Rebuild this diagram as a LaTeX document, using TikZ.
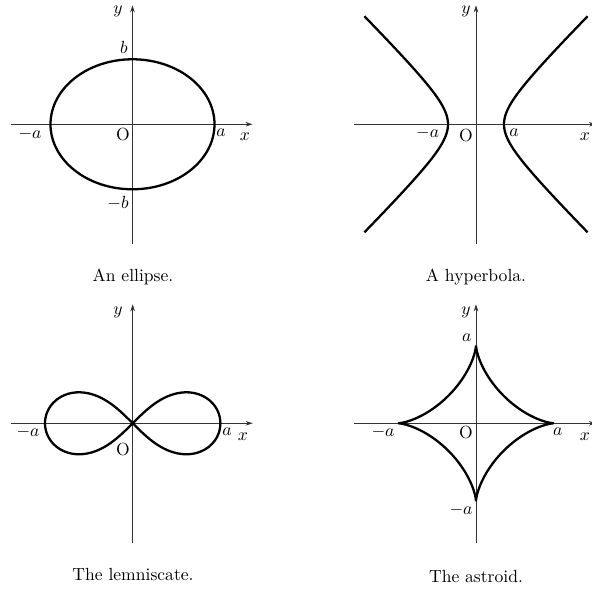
\documentclass[tikz,border=0pt]{standalone}
\usepackage{amsmath}
\usepackage{tikz}
\usetikzlibrary{arrows.meta}

\begin{document}
\begin{tikzpicture}[x=0.02cm,y=0.02cm,
      axis/.style={-{Stealth[length=4pt,width=2.6pt]},line width=0.5pt,black!80},
      curve/.style={line width=1.3pt,line join=round},
      lbl/.style={inner sep=0pt}]
    \clip (0,0) rectangle (592,590);
    % Axes of the four panels
    \foreach \p/\ox/\oy in {E/132.5/465.7,H/476/465.7,L/132.7/166.7,A/476/166.7} {
      \coordinate (\p) at (\ox,\oy);
      \coordinate (\p-xl) at (\ox-122,\oy);
      \coordinate (\p-xr) at (\ox+120,\oy);
      \coordinate (\p-yb) at (\ox,\oy-120);
      \coordinate (\p-yt) at (\ox,\oy+119);
      \draw[axis] (\p-xl) -- (\p-xr);
      \draw[axis] (\p-yb) -- (\p-yt);
    }
    % Ellipse
    \begin{scope}[shift={(E)}]
      \draw[curve] (0,0) ellipse [x radius=82,y radius=65];
      \node[lbl] (E-y) at (-14.5,113) {$y$};
      \node[lbl] (E-b) at (-8.5,77) {$b$};
      \node[lbl] (E-ma) at (-102.5,-9.7) {$-a$};
      \node[lbl] (E-o) at (-9.5,-10.7) {O};
      \node[lbl] (E-a) at (88.5,-8.7) {$a$};
      \node[lbl] (E-x) at (112.5,-12.7) {$x$};
      \node[lbl] (E-mb) at (-14.5,-78.7) {$-b$};
      \node (E-cap) at (0.5,-152.7) {An ellipse.};
    \end{scope}
    % Hyperbola
    \begin{scope}[shift={(H)}]
      \draw[curve] plot[domain=-2.06:2.06,samples=60,smooth] ({28*cosh(\x)},{28*sinh(\x)});
      \draw[curve] plot[domain=-2.06:2.06,samples=60,smooth] ({-28*cosh(\x)},{28*sinh(\x)});
      \node[lbl] (H-y) at (-10,113) {$y$};
      \node[lbl] (H-ma) at (-48.3,-8.7) {$-a$};
      \node[lbl] (H-o) at (-10,-11.7) {O};
      \node[lbl] (H-a) at (38,-8.7) {$a$};
      \node[lbl] (H-x) at (109,-12.7) {$x$};
      \node (H-cap) at (0,-152.7) {A hyperbola.};
    \end{scope}
    % Lemniscate
    \begin{scope}[shift={(L)}]
      \draw[curve] plot[domain=0:360,samples=121,smooth cycle]
        ({87.7*cos(\x)/(1+sin(\x)^2)},{87.7*sin(\x)*cos(\x)/(1+sin(\x)^2)});
      \node[lbl] (L-y) at (-14.7,111.3) {$y$};
      \node[lbl] (L-ma) at (-104.7,-8.7) {$-a$};
      \node[lbl] (L-a) at (94.3,-8.7) {$a$};
      \node[lbl] (L-x) at (110.3,-13.7) {$x$};
      \node[lbl] (L-o) at (-9.7,-26.7) {O};
      \node (L-cap) at (0.3,-151.7) {The lemniscate.};
    \end{scope}
    % Astroid
    \begin{scope}[shift={(A)}]
      \draw[curve,line join=miter] plot[domain=0:360,samples=241]
        ({78*cos(\x)^3},{78*sin(\x)^3}) -- cycle;
      \node[lbl] (A-y) at (-10,111.3) {$y$};
      \node[lbl] (A-at) at (-9.3,85.6) {$a$};
      \node[lbl] (A-ma) at (-93,-8.7) {$-a$};
      \node[lbl] (A-o) at (-10,-9.7) {O};
      \node[lbl] (A-a) at (81.7,-8.7) {$a$};
      \node[lbl] (A-x) at (109,-13.7) {$x$};
      \node[lbl] (A-mb) at (-15,-86.7) {$-a$};
      \node (A-cap) at (0,-153.7) {The astroid.};
    \end{scope}
  \end{tikzpicture}
\end{document}
